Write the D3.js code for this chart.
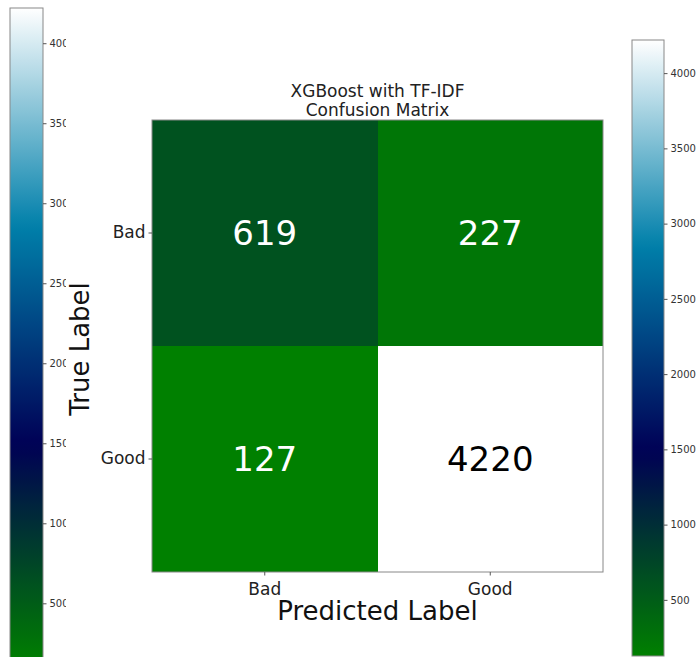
<!DOCTYPE html>
<html>
<head>
<meta charset="utf-8">
<script src="https://cdn.jsdelivr.net/npm/d3@7"></script>
<style>
  html, body { margin: 0; padding: 0; background: #fff; }
  svg { display: block; font-family: "DejaVu Sans", sans-serif; }
</style>
</head>
<body>
<svg id="chart" width="699" height="657"></svg>
<script>
// Confusion matrix values (rows = true label, columns = predicted label)
const classes = ["Bad", "Good"];
const matrixRows = [
  [619, 227],
  [127, 4220]
];
const colorbarTicks = [500, 1000, 1500, 2000, 2500, 3000, 3500, 4000];
const titleLines = ["XGBoost with TF-IDF", "Confusion Matrix"];

const flat = matrixRows.flat();
const vMin = d3.min(flat), vMax = d3.max(flat);

// matplotlib "ocean" colormap
function ocean(t) {
  t = Math.max(0, Math.min(1, t));
  const r = Math.max(0, Math.min(1, 3 * t - 2));
  const g = Math.max(0, Math.min(1, Math.abs((3 * t - 1) / 2)));
  const b = t;
  return d3.rgb(r * 255, g * 255, b * 255).formatHex();
}
const norm = d3.scaleLinear().domain([vMin, vMax]).range([0, 1]);
const color = v => ocean(norm(v));

const svg = d3.select("#chart");
const defs = svg.append("defs");

// vertical gradient for the colorbars (bottom = min, top = max)
const grad = defs.append("linearGradient")
  .attr("id", "oceanGrad").attr("x1", 0).attr("y1", 1).attr("x2", 0).attr("y2", 0);
d3.range(0, 1.0001, 0.02).forEach(t => {
  grad.append("stop").attr("offset", t).attr("stop-color", ocean(t));
});

// ---- heatmap ----
const hm = { x0: 152, x1: 603, y0: 120, y1: 572 };
const x = d3.scaleBand().domain(classes).range([hm.x0, hm.x1]);
const y = d3.scaleBand().domain(classes).range([hm.y0, hm.y1]);

const cells = [];
matrixRows.forEach((row, i) => row.forEach((v, j) => cells.push({ t: classes[i], p: classes[j], v })));

svg.append("g").attr("shape-rendering", "crispEdges")
  .selectAll("rect").data(cells).join("rect")
  .attr("x", d => Math.round(x(d.p))).attr("y", d => Math.round(y(d.t)))
  .attr("width", d => Math.round(x(d.p) + x.bandwidth()) - Math.round(x(d.p)))
  .attr("height", d => Math.round(y(d.t) + y.bandwidth()) - Math.round(y(d.t)))
  .attr("fill", d => color(d.v));

const thresh = (vMin + vMax) / 2;
svg.append("g").selectAll("text").data(cells).join("text")
  .attr("x", d => x(d.p) + x.bandwidth() / 2)
  .attr("y", d => y(d.t) + y.bandwidth() / 2)
  .attr("text-anchor", "middle").attr("dominant-baseline", "central")
  .attr("font-size", 34)
  .attr("fill", d => d.v < thresh ? "#ffffff" : "#000000")
  .text(d => d.v);

svg.append("rect")
  .attr("x", hm.x0).attr("y", hm.y0)
  .attr("width", hm.x1 - hm.x0).attr("height", hm.y1 - hm.y0)
  .attr("fill", "none").attr("stroke", "#888").attr("stroke-width", 1);

// axes
const xAxis = svg.append("g").attr("transform", `translate(0,${hm.y1})`)
  .call(d3.axisBottom(x).tickSize(3.5).tickSizeOuter(0));
xAxis.select(".domain").remove();
xAxis.selectAll("line").attr("stroke", "#555");
xAxis.selectAll("text").attr("font-size", 17).attr("fill", "#222").attr("dy", "0.95em")
  .attr("font-family", "DejaVu Sans, sans-serif");

const yAxis = svg.append("g").attr("transform", `translate(${hm.x0},0)`)
  .call(d3.axisLeft(y).tickSize(3.5).tickSizeOuter(0));
yAxis.select(".domain").remove();
yAxis.selectAll("line").attr("stroke", "#555");
yAxis.selectAll("text").attr("font-size", 17).attr("fill", "#222")
  .attr("font-family", "DejaVu Sans, sans-serif");

// axis titles
svg.append("text").attr("x", (hm.x0 + hm.x1) / 2).attr("y", 620)
  .attr("text-anchor", "middle").attr("font-size", 26).attr("fill", "#111")
  .text("Predicted Label");
svg.append("text")
  .attr("transform", `translate(89,${(hm.y0 + hm.y1) / 2 + 3}) rotate(-90)`)
  .attr("text-anchor", "middle").attr("font-size", 26).attr("fill", "#111")
  .text("True Label");

// title
svg.append("g").selectAll("text").data(titleLines).join("text")
  .attr("x", (hm.x0 + hm.x1) / 2).attr("y", (d, i) => 97 + i * 19)
  .attr("text-anchor", "middle").attr("font-size", 17).attr("fill", "#222")
  .text(d => d);

// ---- colorbars ----
function colorbar(x0, width, yTop, yBottom, clipRight) {
  const s = d3.scaleLinear().domain([vMin, vMax]).range([yBottom, yTop]);
  const g = svg.append("g");
  if (clipRight) {
    const id = "clip" + x0;
    defs.append("clipPath").attr("id", id).append("rect")
      .attr("x", 0).attr("y", 0).attr("width", clipRight).attr("height", 657);
    g.attr("clip-path", `url(#${id})`);
  }
  g.append("rect").attr("x", x0).attr("y", s(vMax))
    .attr("width", width).attr("height", s(vMin) - s(vMax))
    .attr("fill", "url(#oceanGrad)").attr("stroke", "#888").attr("stroke-width", 1);
  const ax = g.append("g").attr("transform", `translate(${x0 + width},0)`)
    .call(d3.axisRight(s).tickValues(colorbarTicks).tickFormat(d3.format("d")).tickSize(3.5));
  ax.select(".domain").remove();
  ax.selectAll("line").attr("stroke", "#555");
  ax.selectAll("text").attr("font-size", 10).attr("fill", "#333")
    .attr("font-family", "DejaVu Sans, sans-serif");
}
colorbar(10, 33, 8, 663, 66);
colorbar(632, 32, 40, 656, null);
</script>
</body>
</html>
